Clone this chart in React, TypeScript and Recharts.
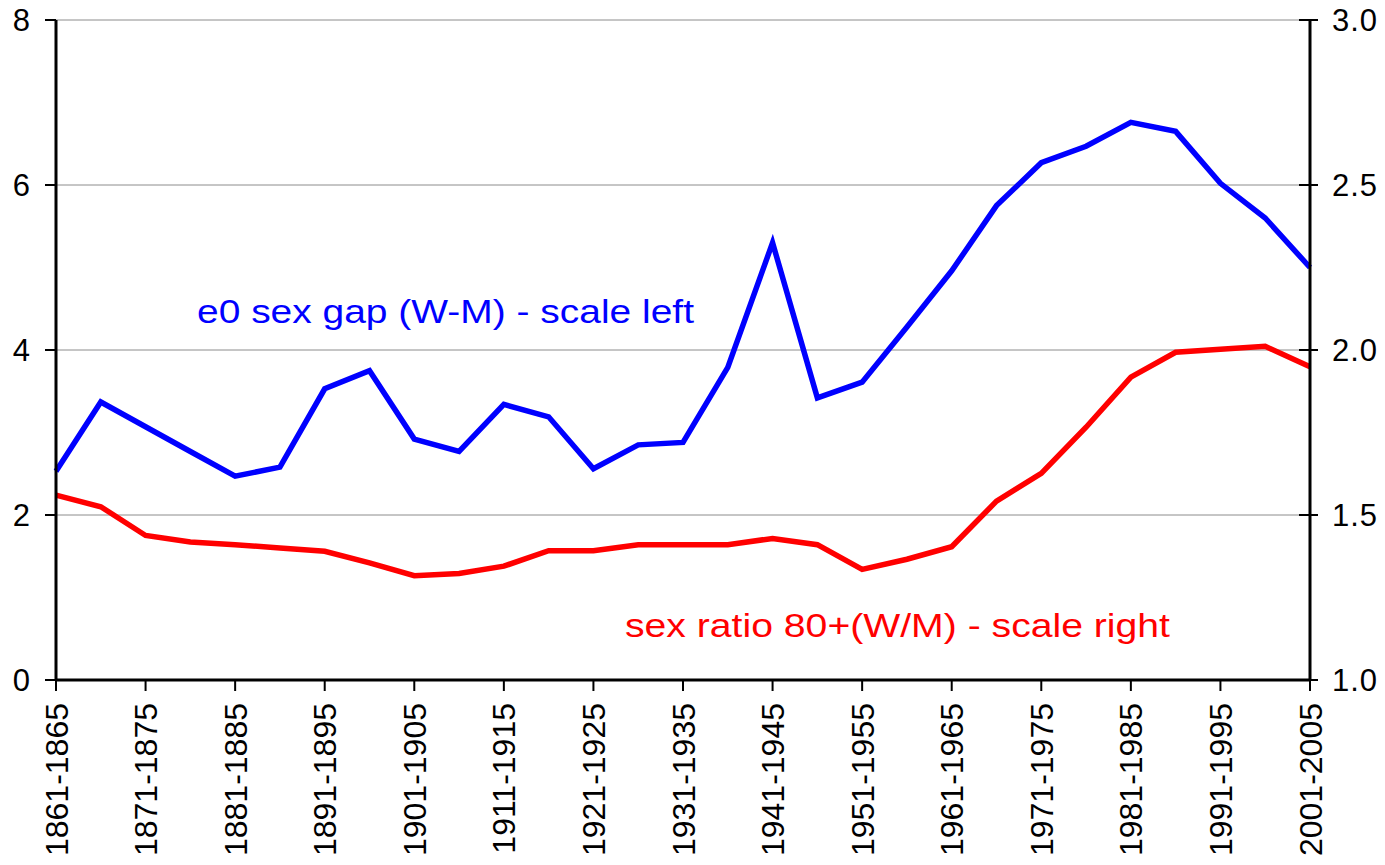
import { LineChart, Line, XAxis, YAxis, CartesianGrid } from "recharts";

const periods = [
  "1861-1865", "1866-1870", "1871-1875", "1876-1880", "1881-1885",
  "1886-1890", "1891-1895", "1896-1900", "1901-1905", "1906-1910",
  "1911-1915", "1916-1920", "1921-1925", "1926-1930", "1931-1935",
  "1936-1940", "1941-1945", "1946-1950", "1951-1955", "1956-1960",
  "1961-1965", "1966-1970", "1971-1975", "1976-1980", "1981-1985",
  "1986-1990", "1991-1995", "1996-2000", "2001-2005",
];

// e0 sex gap (W-M), left scale
const gapWM = [
  2.53, 3.37, 3.07, 2.77, 2.47, 2.58, 3.53, 3.75, 2.92, 2.77,
  3.34, 3.19, 2.56, 2.85, 2.88, 3.79, 5.3, 3.42, 3.61, 4.28,
  4.96, 5.75, 6.27, 6.47, 6.76, 6.65, 6.02, 5.6, 5.0,
];

// sex ratio 80+ (W/M), right scale
const sexRatio80 = [
  1.56, 1.525, 1.438, 1.418, 1.41, 1.4, 1.39, 1.355, 1.316, 1.323,
  1.345, 1.392, 1.392, 1.41, 1.41, 1.41, 1.429, 1.41, 1.335, 1.366,
  1.404, 1.542, 1.626, 1.766, 1.918, 1.993, 2.002, 2.011, 1.949,
];

const leftTicks = [0, 2, 4, 6, 8];
const rightTicks = [1, 1.5, 2, 2.5, 3];

const FONT = "'Liberation Sans', Arial, sans-serif";

const data = periods.map((period, i) => ({
  period,
  gap: gapWM[i],
  ratio: sexRatio80[i],
}));

function XTick({ x, y, payload }: any) {
  return (
    <g transform={`translate(${x},${y})`}>
      <line x1={0} y1={0} x2={0} y2={11} stroke="#000" strokeWidth={2} />
      <text
        x={0}
        y={0}
        transform="translate(0,23) rotate(-90)"
        textAnchor="end"
        dy="0.36em"
        fontSize={32}
        fontFamily={FONT}
        fill="#000"
      >
        {payload.value}
      </text>
    </g>
  );
}

function LeftTick({ x, y, payload }: any) {
  return (
    <g>
      <line x1={x - 11} y1={y} x2={x} y2={y} stroke="#000" strokeWidth={2} />
      <text
        x={x - 26}
        y={y}
        dy="0.36em"
        textAnchor="end"
        fontSize={31}
        fontFamily={FONT}
        fill="#000"
      >
        {payload.value}
      </text>
    </g>
  );
}

function RightTick({ x, y, payload }: any) {
  return (
    <g>
      <line x1={x - 11} y1={y} x2={x + 8} y2={y} stroke="#000" strokeWidth={2} />
      <text
        x={x + 22}
        y={y}
        dy="0.36em"
        textAnchor="start"
        fontSize={31}
        letterSpacing={1}
        fontFamily={FONT}
        fill="#000"
      >
        {Number(payload.value).toFixed(1)}
      </text>
    </g>
  );
}

export default function App() {
  return (
    <div style={{ position: "absolute", left: 0, top: 0, width: 1385, height: 865, background: "#fff", overflow: "hidden" }}>
      <LineChart
        width={1385}
        height={865}
        data={data}
        margin={{ top: 20, right: 0, bottom: 0, left: 0 }}
      >
        <CartesianGrid yAxisId="left" vertical={false} stroke="#8c8c8c" strokeWidth={1} />
        <XAxis
          dataKey="period"
          interval={1}
          height={185}
          tickLine={false}
          tickSize={0}
          tickMargin={0}
          axisLine={{ stroke: "#000", strokeWidth: 3 }}
          tick={<XTick />}
        />
        <YAxis
          yAxisId="left"
          orientation="left"
          width={56}
          domain={[0, 8]}
          ticks={leftTicks}
          tickLine={false}
          tickSize={0}
          tickMargin={0}
          axisLine={{ stroke: "#000", strokeWidth: 3 }}
          tick={<LeftTick />}
        />
        <YAxis
          yAxisId="right"
          orientation="right"
          width={75}
          domain={[1, 3]}
          ticks={rightTicks}
          tickLine={false}
          tickSize={0}
          tickMargin={0}
          axisLine={{ stroke: "#000", strokeWidth: 3 }}
          tick={<RightTick />}
        />
        <Line
          yAxisId="right"
          type="linear"
          dataKey="ratio"
          stroke="#ff0000"
          strokeWidth={5.5}
          dot={false}
          isAnimationActive={false}
        />
        <Line
          yAxisId="left"
          type="linear"
          dataKey="gap"
          stroke="#0000ff"
          strokeWidth={5.5}
          dot={false}
          isAnimationActive={false}
        />
      </LineChart>
      <svg
        width={1385}
        height={865}
        style={{ position: "absolute", left: 0, top: 0, pointerEvents: "none" }}
      >
        <text
          x={197}
          y={323}
          fontSize={33}
          textLength={497}
          lengthAdjust="spacingAndGlyphs"
          fontFamily={FONT}
          fill="#0000ff"
        >
          e0 sex gap (W-M) - scale left
        </text>
        <text
          x={625}
          y={637}
          fontSize={33}
          textLength={545}
          lengthAdjust="spacingAndGlyphs"
          fontFamily={FONT}
          fill="#ff0000"
        >
          sex ratio 80+(W/M) - scale right
        </text>
      </svg>
    </div>
  );
}
